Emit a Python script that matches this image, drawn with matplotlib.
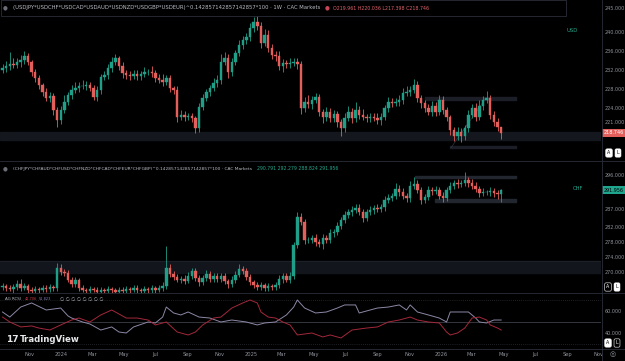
import numpy as np
import pandas as pd
import matplotlib
matplotlib.use("Agg")
import matplotlib.pyplot as plt
import matplotlib.transforms as mtransforms
from matplotlib.patches import Rectangle

# weekly candles, first one is the week of 2023-09-11
start = pd.Timestamp("2023-09-11")

# ---- USD basket (top pane) ----
usd_open0 = 232.0
usd_close = [
    232.4, 232.8, 233.3, 233.1, 233.7, 234.1, 234.9, 233.7, 231.6, 230.3,
    228.8, 227.4, 226.1, 226.5, 223.6, 221.5, 223.6, 225.3, 226.7, 227.8,
    228.2, 228.6, 228.6, 228.8, 228.2, 226.3, 227.8, 230.5, 230.9, 232.4,
    233.7, 234.5, 232.8, 231.4, 230.9, 230.7, 231.2, 230.7, 231.2, 231.6,
    231.6, 231.4, 230.3, 229.9, 229.5, 230.3, 228.2, 227.8, 222.1, 222.5,
    222.1, 222.3, 221.9, 219.8, 224.2, 226.1, 227.4, 228.2, 229.3, 229.9,
    233.7, 234.5, 231.6, 233.7, 235.6, 237.3, 238.3, 238.9, 240.8, 242.1,
    241.3, 237.7, 239.4, 236.6, 235.2, 234.9, 232.8, 233.5, 233.3, 233.5,
    233.7, 233.3, 224.0, 225.3, 224.8, 225.7, 226.3, 223.2, 222.1, 223.2,
    221.9, 222.7, 221.1, 219.8, 221.9, 223.2, 221.9, 223.6, 222.5, 222.1,
    221.9, 222.1, 221.9, 221.5, 222.1, 224.0, 225.3, 225.1, 225.3, 225.7,
    227.2, 227.4, 227.8, 228.8, 226.1, 225.1, 224.0, 223.2, 224.4, 223.2,
    225.7, 223.6, 222.1, 219.4, 218.1, 219.0, 218.1, 219.8, 222.5, 224.0,
    222.1, 224.4, 225.7, 226.1, 222.5, 221.1, 219.961, 218.746,
]
usd_wick_up = [
    0.8, 1.0, 2.5, 1.2, 0.9, 1.0, 1.1, 0.6, 0.5, 0.7,
    0.6, 0.5, 0.8, 0.9, 0.6, 0.7, 0.8, 1.5, 0.6, 1.0,
    1.2, 0.8, 1.4, 0.9, 0.6, 0.7, 0.8, 0.6, 0.9, 0.8,
    1.0, 0.9, 0.5, 0.8, 0.6, 0.9, 0.7, 0.8, 0.6, 1.0,
    0.7, 1.3, 0.5, 0.9, 1.2, 0.7, 0.6, 0.5, 0.9, 1.0,
    0.8, 0.7, 0.6, 0.5, 0.9, 0.8, 0.7, 0.6, 1.0, 1.1,
    1.6, 1.2, 0.9, 0.8, 0.7, 1.0, 0.9, 0.8, 1.1, 1.0,
    1.4, 0.8, 1.2, 1.0, 0.9, 0.8, 1.1, 0.9, 0.7, 1.0,
    0.8, 0.9, 0.6, 1.0, 1.5, 0.8, 0.9, 0.7, 0.6, 1.0,
    0.8, 0.9, 0.6, 0.5, 1.0, 1.3, 0.8, 1.6, 0.9, 1.2,
    0.7, 0.8, 0.9, 1.0, 0.8, 0.7, 1.1, 0.8, 0.9, 1.0,
    1.0, 1.2, 0.9, 1.4, 0.8, 0.7, 0.6, 0.9, 1.0, 0.8,
    1.1, 0.8, 0.6, 0.5, 0.7, 0.9, 0.8, 0.7, 1.1, 0.9,
    1.0, 1.2, 0.8, 1.4, 0.7, 0.9, 0.8, 0.075,
]
usd_wick_dn = [
    0.7, 0.9, 0.8, 0.6, 0.7, 1.0, 0.8, 0.6, 0.9, 0.8,
    0.7, 0.9, 0.6, 0.8, 1.0, 1.4, 0.9, 0.7, 0.6, 0.8,
    0.6, 0.9, 0.7, 0.8, 0.6, 0.7, 0.9, 0.8, 0.6, 0.7,
    0.8, 0.6, 0.7, 1.0, 0.8, 0.9, 0.6, 0.7, 0.8, 0.6,
    0.7, 0.8, 0.9, 0.6, 0.8, 0.7, 0.9, 0.8, 1.0, 0.7,
    0.8, 0.6, 0.9, 1.0, 0.8, 0.7, 0.6, 0.8, 0.7, 0.9,
    0.8, 0.7, 1.2, 0.8, 0.6, 0.7, 0.9, 0.8, 0.7, 0.9,
    0.8, 1.0, 0.7, 0.9, 0.8, 1.1, 0.9, 1.3, 0.8, 0.9,
    0.7, 1.0, 1.2, 0.9, 0.8, 1.0, 0.7, 0.9, 1.2, 0.8,
    0.9, 0.8, 1.0, 1.8, 0.9, 0.7, 1.0, 0.8, 0.9, 0.7,
    0.8, 0.9, 0.7, 0.8, 1.0, 0.7, 0.8, 0.9, 0.7, 0.8,
    0.9, 0.7, 0.8, 0.6, 0.9, 1.0, 0.8, 0.7, 0.9, 0.8,
    0.7, 0.9, 0.8, 1.0, 1.0, 0.8, 1.2, 0.9, 0.8, 0.7,
    0.9, 0.7, 0.8, 0.6, 0.9, 0.8, 0.7, 1.348,
]

# ---- CHF basket (middle pane) ----
chf_open0 = 266.0
chf_close = [
    266.2, 265.7, 265.4, 266.0, 266.8, 265.7, 266.2, 265.2, 264.9, 265.4,
    265.2, 265.7, 265.4, 266.0, 265.7, 271.1, 270.0, 269.7, 267.9, 266.8,
    267.9, 265.7, 265.2, 264.9, 265.4, 265.2, 264.6, 265.2, 264.9, 265.4,
    265.2, 264.6, 265.2, 264.9, 265.4, 265.2, 265.7, 265.2, 264.9, 265.4,
    265.2, 265.7, 265.2, 265.7, 266.2, 271.1, 269.5, 268.7, 267.9, 268.1,
    267.6, 268.9, 270.3, 268.4, 267.3, 268.4, 269.5, 268.1, 268.9, 268.1,
    268.9, 267.6, 266.8, 267.9, 269.2, 270.8, 270.3, 268.7, 267.3, 266.5,
    266.0, 266.5, 265.7, 266.2, 266.0, 266.5, 268.1, 268.9, 267.9, 268.9,
    277.2, 284.7, 283.4, 278.6, 278.6, 279.1, 278.0, 277.5, 279.1, 278.6,
    280.5, 280.7, 282.3, 283.9, 285.3, 286.1, 286.6, 287.2, 286.1, 284.5,
    286.1, 286.6, 287.2, 286.9, 287.4, 289.3, 289.8, 290.4, 292.3, 291.4,
    290.4, 289.8, 293.1, 293.6, 292.0, 289.3, 290.1, 292.0, 291.7, 292.0,
    290.4, 289.8, 292.0, 293.1, 293.9, 293.6, 293.9, 294.7, 293.9, 293.1,
    292.3, 291.2, 291.4, 291.4, 291.7, 291.2, 290.791, 291.956,
]
chf_wick_up = [
    0.8, 0.6, 0.9, 0.7, 1.0, 1.2, 0.8, 0.6, 0.7, 0.9,
    0.6, 0.8, 0.7, 0.9, 0.6, 1.2, 1.0, 0.9, 0.8, 0.7,
    0.8, 0.6, 0.7, 0.5, 0.8, 0.6, 0.7, 0.9, 0.6, 0.8,
    0.7, 0.6, 0.8, 0.7, 0.9, 0.6, 0.8, 0.7, 0.6, 0.8,
    0.7, 0.9, 0.6, 0.8, 1.0, 5.9, 1.0, 0.8, 0.7, 0.9,
    1.0, 1.1, 0.9, 0.7, 0.8, 0.9, 1.0, 0.8, 0.7, 0.9,
    0.8, 0.7, 0.6, 0.9, 1.0, 1.3, 0.9, 0.8, 0.7, 0.6,
    0.8, 0.7, 0.6, 0.9, 0.7, 0.8, 1.0, 0.9, 0.8, 1.0,
    0.9, 1.4, 1.2, 0.8, 0.9, 0.7, 1.0, 0.8, 1.1, 0.9,
    1.0, 0.8, 1.2, 0.9, 1.0, 0.8, 1.1, 0.9, 1.0, 0.8,
    0.9, 1.0, 0.8, 1.1, 0.9, 1.2, 1.0, 0.8, 1.5, 0.9,
    1.0, 0.8, 1.3, 2.0, 1.0, 0.9, 0.8, 1.1, 0.9, 1.0,
    0.8, 1.0, 0.9, 1.1, 0.8, 1.0, 0.9, 2.0, 0.8, 1.0,
    0.9, 0.8, 1.0, 0.7, 1.0, 0.8, 0.9, 0.323,
]
chf_wick_dn = [
    0.7, 0.8, 0.6, 0.9, 0.7, 0.8, 0.6, 0.7, 0.8, 0.6,
    0.7, 0.6, 0.8, 0.7, 0.9, 0.8, 0.7, 0.9, 0.6, 0.8,
    0.7, 0.9, 0.6, 0.8, 0.7, 0.6, 0.8, 0.7, 0.9, 0.6,
    0.8, 0.7, 0.6, 0.8, 0.7, 0.9, 0.6, 0.8, 0.7, 0.6,
    0.8, 0.7, 0.9, 0.6, 0.8, 0.7, 0.9, 0.8, 0.7, 0.9,
    0.8, 0.6, 0.9, 0.7, 1.0, 0.8, 0.7, 0.9, 0.8, 0.7,
    0.9, 0.8, 1.0, 0.7, 0.8, 0.6, 0.9, 0.8, 0.7, 0.9,
    0.8, 0.7, 0.9, 0.8, 0.7, 0.9, 0.8, 1.0, 0.7, 0.8,
    0.9, 0.8, 0.7, 1.0, 0.9, 0.8, 1.1, 0.9, 1.2, 0.8,
    0.9, 1.0, 0.8, 0.9, 0.7, 0.8, 1.0, 0.9, 0.8, 1.1,
    0.9, 0.8, 1.0, 0.9, 0.8, 1.0, 0.9, 0.8, 0.9, 1.0,
    0.8, 0.9, 1.0, 0.8, 0.9, 1.1, 0.8, 0.9, 1.0, 0.8,
    0.9, 1.0, 0.8, 0.9, 0.8, 1.0, 0.9, 0.8, 1.0, 0.9,
    0.8, 1.0, 0.9, 0.8, 0.9, 1.0, 1.2, 1.967,
]

# ---- RSI pane (sampled points: week index, value) ----
rsi_pur_wk = [0, 2, 5, 8, 12, 16, 18, 19, 22, 24, 27, 30, 32, 34, 36, 40, 42, 44, 45, 47,
              49, 51, 54, 57, 60, 63, 67, 70, 72, 75, 78, 80, 81, 83, 86, 89, 92, 94, 97, 98,
              101, 103, 106, 109, 111, 112, 114, 117, 120, 122, 123, 126, 128, 130, 131, 133, 135, 137]
rsi_pur = [59.1, 54.5, 63.6, 67.3, 60.9, 62.7, 55.5, 53.6, 50.0, 48.2, 42.7, 45.5, 40.9, 40.0, 45.5,
           50.0, 49.1, 54.5, 63.6, 58.2, 56.4, 59.1, 54.5, 53.6, 50.0, 51.8, 50.0, 47.3, 49.1, 50.0,
           56.4, 63.6, 70.0, 62.7, 58.2, 59.1, 62.7, 65.5, 65.5, 58.2, 60.9, 62.7, 63.6, 65.5, 60.9,
           65.5, 59.1, 56.4, 53.6, 50.0, 59.1, 59.1, 59.1, 53.6, 50.0, 49.1, 51.8, 51.8]
rsi_red_wk = [0, 2, 5, 8, 10, 13, 16, 19, 21, 24, 27, 30, 31, 34, 37, 40, 42, 45, 48, 51,
              53, 55, 58, 60, 63, 66, 68, 70, 71, 73, 75, 77, 79, 81, 85, 88, 90, 93, 96, 100,
              103, 106, 109, 111, 112, 114, 117, 120, 122, 123, 125, 127, 129, 131, 133, 134, 136, 137]
rsi_red = [54.5, 50.0, 45.5, 46.4, 44.5, 42.7, 47.3, 51.8, 53.6, 50.0, 56.4, 60.9, 59.1, 53.6, 53.6,
           51.8, 47.3, 50.0, 40.9, 38.2, 40.9, 47.3, 53.6, 54.5, 62.7, 67.3, 70.0, 67.3, 59.1, 54.5,
           53.6, 50.0, 47.3, 38.2, 40.0, 36.4, 38.2, 35.5, 42.7, 44.5, 45.5, 50.0, 51.8, 53.6, 54.5,
           51.8, 50.0, 49.1, 40.9, 38.2, 40.0, 44.5, 53.6, 54.5, 51.8, 47.3, 44.5, 42.7]

usd_ticks = [245, 240, 236, 232, 228, 224, 221]
chf_ticks = [296, 287, 282, 278, 274, 270]
rsi_ticks = [60, 40]
month_dates = ["2023-11-01", "2024-01-01", "2024-03-01", "2024-05-01", "2024-07-01", "2024-09-01",
               "2024-11-01", "2025-01-01", "2025-03-01", "2025-05-01", "2025-07-01", "2025-09-01",
               "2025-11-01", "2026-01-01", "2026-03-01", "2026-05-01", "2026-07-01", "2026-09-01",
               "2026-11-01"]
month_labels = ["Nov", "2024", "Mar", "May", "Jul", "Sep", "Nov", "2025", "Mar", "May", "Jul",
                "Sep", "Nov", "2026", "Mar", "May", "Jul", "Sep", "Nov"]

GREEN = "#1f9e88"
RED = "#e35f5b"
LINE = "#2a2e39"
TXT = "#8f929b"
W, H = 625, 361
PXW = 3.64  # pixels per week

fig = plt.figure(figsize=(6.25, 3.61), dpi=100, facecolor="black")
renderer = fig.canvas.get_renderer()


def pane(top, bottom):
    return fig.add_axes([0, 1 - bottom / H, 601 / W, (bottom - top) / H], facecolor="black")


ax1 = pane(0, 160)
ax2 = pane(161, 293)
ax3 = pane(293, 349)
ax1.set_ylim(213.05, 246.74)
ax2.set_ylim(264.37, 299.76)
ax3.set_ylim(25.45, 76.36)


def candles(ax, closes, open0, up, dn):
    c = np.array(closes)
    o = np.concatenate([[open0], c[:-1]])
    hi = np.maximum(o, c) + np.array(up)
    lo = np.minimum(o, c) - np.array(dn)
    x = np.arange(len(c))
    col = np.where(c >= o, GREEN, RED)
    ax.vlines(x, lo, hi, colors=col, linewidth=0.6, zorder=3)
    ax.bar(x, c - o, bottom=o, width=0.68, color=col, edgecolor=col, linewidth=0.3, zorder=4)


# background zones / drawings
ax1.axhspan(217.26, 218.95, color="#14171d", zorder=1)
ax1.fill_between([116, 141], 225.6, 226.4, color="#1b1e26", zorder=1)
ax1.fill_between([123, 141], 215.5, 216.0, color="#1b1e26", zorder=1)
ax1.plot([123.2, 127.9], [215.6, 220.8], color="#3a3e48", lw=0.4, zorder=2)
ax1.plot([125.7, 132.8], [218.3, 226.1], color="#3a3e48", lw=0.4, zorder=2)
ax2.axhspan(269.73, 272.95, color="#12151b", zorder=1)
ax2.axhline(272.95, color="#222630", lw=0.5, zorder=1)
ax2.fill_between([113.4, 141], 295.2, 295.8, color="#22262f", zorder=1)
ax2.fill_between([118.9, 141], 288.9, 289.5, color="#22262f", zorder=1)

candles(ax1, usd_close, usd_open0, usd_wick_up, usd_wick_dn)
candles(ax2, chf_close, chf_open0, chf_wick_up, chf_wick_dn)

ax3.axhline(50, color="#3c3f47", lw=0.6)
ax3.axhline(70, color="#3c3f47", lw=0.5, ls=(0, (1, 2)))
ax3.axhline(30, color="#3c3f47", lw=0.5, ls=(0, (1, 2)))
ax3.plot(rsi_pur_wk, rsi_pur, color="#8d88a6", lw=0.7)
ax3.plot(rsi_red_wk, rsi_red, color="#a3283a", lw=0.7)

xt = (pd.to_datetime(month_dates) - start).days / 7
for ax, ticks in ((ax1, usd_ticks), (ax2, chf_ticks), (ax3, rsi_ticks)):
    ax.set_xlim(-2.5 / PXW, (601 - 2.5) / PXW)
    ax.yaxis.tick_right()
    ax.set_yticks(ticks)
    ax.set_yticklabels([f"{t:.3f}" for t in ticks])
    ax.tick_params(axis="y", length=0, pad=2.5, labelsize=3.5, labelcolor=TXT)
    ax.tick_params(axis="x", length=0, labelsize=3.7, labelcolor=TXT, pad=2.5)
    for s in ax.spines.values():
        s.set_visible(False)
    ax.set_xticks([])
ax3.set_xticks(xt)
ax3.set_xticklabels(month_labels)

# last price tags
for ax, val, txt, bg, fg in ((ax1, 218.746, "218.746", "#e35f5b", "white"),
                             (ax2, 291.956, "291.956", "#1fa58e", "black")):
    tr = mtransforms.blended_transform_factory(ax.transAxes, ax.transData)
    ax.text(1.004, val, txt, transform=tr, ha="left", va="center", fontsize=3.5, color=fg,
            bbox=dict(boxstyle="square,pad=0.3", fc=bg, ec="none"), clip_on=False, zorder=10)


def fx(px):
    return px / W


def fy(py):
    return 1 - py / H


def fit_text(px, py, s, width, **kw):
    # shrink a header line so it spans the same pixel width as in the reference
    t = fig.text(fx(px), fy(py), s, fontsize=4, va="center", **kw)
    w = t.get_window_extent(renderer=renderer).width
    t.set_fontsize(4 * width / w)
    return t


# separators
for py in (160.5, 293, 349):
    fig.add_artist(plt.Line2D([0, 1], [fy(py), fy(py)], color=LINE, lw=0.6))
fig.add_artist(plt.Line2D([fx(601.5), fx(601.5)], [0, 1], color=LINE, lw=0.6))

# headers
fig.add_artist(Rectangle((fx(0.5), fy(16)), fx(565), 16 / H, transform=fig.transFigure,
                         fc="black", ec=LINE, lw=0.6, zorder=5))
fig.text(fx(5), fy(8), "●", fontsize=4, color="#6a6d75", va="center", ha="center", zorder=6)
fit_text(13, 8, "(USDJPY*USDCHF*USDCAD*USDAUD*USDNZD*USDGBP*USDEUR)^0.142857142857142857*100 · 1W · CAC Markets",
         306, color="#b8bbc3", zorder=6)
fig.text(fx(327), fy(8), "●", fontsize=4, color="#c8455a", va="center", ha="center", zorder=6)
fit_text(333, 8, "O219.961 H220.036 L217.398 C218.746", 95, color="#e0626a", zorder=6)
fig.text(fx(5), fy(169), "●", fontsize=4, color="#6a6d75", va="center", ha="center")
fit_text(13, 169, "(CHFJPY*CHFAUD*CHFUSD*CHFNZD*CHFCAD*CHFEUR*CHFGBP)^0.142857142857142857*100 · CAC Markets",
         241, color="#b8bbc3")
fit_text(257, 169, "290.791 292.279 288.824 291.956", 80, color="#26a88f")
fig.text(fx(572), fy(30), "USD", fontsize=3.8, color="#26a88f", va="center", ha="center")
fig.text(fx(578), fy(189), "CHF", fontsize=3.8, color="#26a88f", va="center", ha="center")

fit_text(5, 299.5, "AG RCSI", 16, color="#b8bbc3")
fit_text(25, 299.5, "42.706", 12, color="#d23c4c")
fit_text(39, 299.5, "51.823", 12, color="#8a7fc0")
fit_text(60, 299.5, "∅ ∅ ∅ ∅ ∅ ∅ ∅ ∅", 43, color="#b8bbc3")

# watermark
fig.text(fx(6), fy(340), "17", fontsize=6.5, color="#e6e7ea", weight="bold", va="center")
fig.text(fx(20), fy(340), "TradingView", fontsize=6.2, color="#e6e7ea", weight="semibold", va="center")


# A / L buttons
def button(px, py, label, filled):
    fig.text(fx(px), fy(py), label, fontsize=3.4, ha="center", va="center",
             color="black" if filled else "white",
             bbox=dict(boxstyle="round,pad=0.35,rounding_size=0.3",
                       fc="white" if filled else "black", ec="white", lw=0.4))


button(609, 153, "A", True)
button(618, 153, "L", True)
button(608, 287, "A", False)
button(617, 287, "L", True)
button(608, 343, "A", True)
button(617, 343, "L", False)
fig.text(fx(613), fy(354.5), "◎", fontsize=5, color=TXT, ha="center", va="center")

fig.savefig("out.png", dpi=100, facecolor="black")
